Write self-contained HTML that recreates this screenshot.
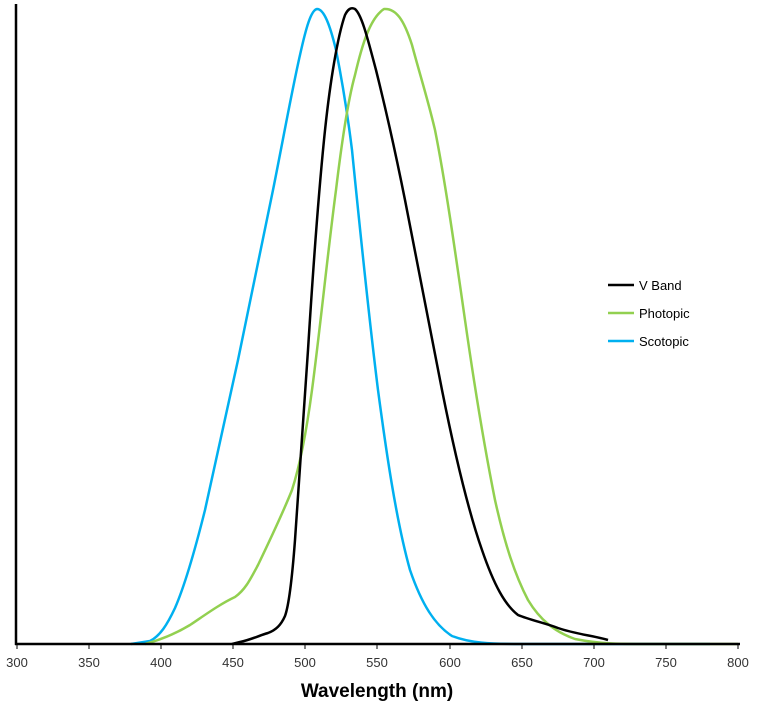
<!DOCTYPE html><html><head><style>body{margin:0;background:#fff}svg{display:block}</style></head><body>
<svg width="768" height="704" xmlns="http://www.w3.org/2000/svg" font-family="Liberation Sans, sans-serif">
<g fill="none" stroke-width="2.5" stroke-linejoin="round">
<path stroke="#00b0f0" d="M131,644 L150,641 C160,636 167,625 175,608 C185,585 195,550 205,510 C215,465 225,420 238,360 C250,300 262,245 273,190 C283,140 292,90 300,55 C306,28 311,10 317,9 C324,9 330,25 336,50 C342,80 347,110 352,150 C360,230 368,310 378,390 C386,450 396,520 410,570 C422,605 435,625 452,636 C470,643 490,644 520,644 L710,644"/>
<path stroke="#92d050" d="M145,644 C160,640 175,634 190,625 C205,615 220,604 235,597 C245,590 250,580 258,565 C270,540 282,515 292,490 C300,465 306,435 312,390 C320,330 328,250 336,190 C342,140 348,100 355,75 C362,45 370,18 384,9 C396,8 404,20 412,45 C420,75 428,100 435,130 C445,180 455,250 465,320 C475,390 485,450 495,500 C505,545 515,575 528,600 C540,620 555,632 575,639 C600,644 620,644 650,644 L738,644"/>
<path stroke="#000" d="M232,644 L240,642 C250,640 258,636 268,633 C276,630 281,625 285,616 C289,605 292,580 295,540 C299,490 303,420 308,350 C313,270 318,200 324,140 C330,80 338,35 345,15 C348,9 351,7 355,9 C362,15 368,40 376,70 C386,110 395,150 405,200 C418,265 430,330 442,390 C455,455 468,510 482,550 C494,585 505,605 518,615 C530,620 545,623 558,628 C575,634 595,636 608,640"/>
</g>
<g stroke="#000" stroke-width="2.5"><line x1="16" y1="4" x2="16" y2="645"/><line x1="15" y1="644" x2="740" y2="644"/></g>
<g stroke="#000" stroke-width="1">
<line x1="17" y1="644" x2="17" y2="649"/><line x1="89" y1="644" x2="89" y2="649"/><line x1="161" y1="644" x2="161" y2="649"/><line x1="233" y1="644" x2="233" y2="649"/><line x1="305" y1="644" x2="305" y2="649"/><line x1="377" y1="644" x2="377" y2="649"/><line x1="450" y1="644" x2="450" y2="649"/><line x1="522" y1="644" x2="522" y2="649"/><line x1="594" y1="644" x2="594" y2="649"/><line x1="666" y1="644" x2="666" y2="649"/><line x1="738" y1="644" x2="738" y2="649"/>
</g>
<g font-size="13" fill="#333" text-anchor="middle">
<text x="17" y="667">300</text><text x="89" y="667">350</text><text x="161" y="667">400</text><text x="233" y="667">450</text><text x="305" y="667">500</text><text x="377" y="667">550</text><text x="450" y="667">600</text><text x="522" y="667">650</text><text x="594" y="667">700</text><text x="666" y="667">750</text><text x="738" y="667">800</text>
</g>
<text x="377" y="697" font-size="19" font-weight="bold" text-anchor="middle" fill="#000">Wavelength (nm)</text>
<g stroke-width="2.5"><line x1="608" y1="285" x2="634" y2="285" stroke="#000"/><line x1="608" y1="313" x2="634" y2="313" stroke="#92d050"/><line x1="608" y1="341" x2="634" y2="341" stroke="#00b0f0"/></g>
<g font-size="13" fill="#000"><text x="639" y="290">V Band</text><text x="639" y="318">Photopic</text><text x="639" y="346">Scotopic</text></g>
</svg></body></html>
